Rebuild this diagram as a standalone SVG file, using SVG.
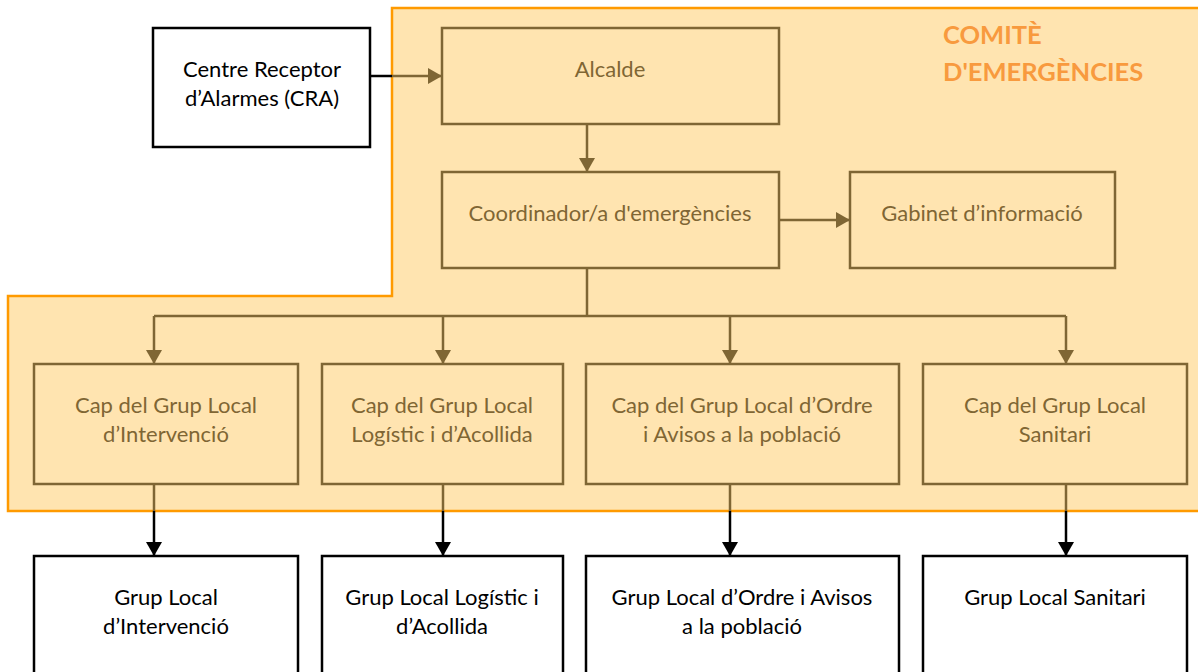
<svg xmlns="http://www.w3.org/2000/svg" width="1198" height="672" viewBox="0 0 1198 672">
<style>
text{font-family:Lato,"Liberation Sans",sans-serif;font-size:22px;text-anchor:middle}
.in rect{fill:#FFE4B0;stroke:#7F6634;stroke-width:2.5}
.in text{fill:#7F6634}
.out rect{fill:#FFFFFF;stroke:#000000;stroke-width:2.5}
.out text{fill:#000000}
.bl{stroke:#7F6634;stroke-width:2.5;fill:none}
.bk{stroke:#000000;stroke-width:2.5;fill:none}
.title{font-weight:bold;font-size:25.5px;fill:#F89A3E;text-anchor:start}
</style>
<defs>
<marker id="ab" markerUnits="userSpaceOnUse" markerWidth="16" markerHeight="16" viewBox="0 0 14 16" refX="14" refY="8" orient="auto"><path d="M0,0 L14,8 L0,16 Z" fill="#7F6634"/></marker>
<marker id="ak" markerUnits="userSpaceOnUse" markerWidth="16" markerHeight="16" viewBox="0 0 14 16" refX="14" refY="8" orient="auto"><path d="M0,0 L14,8 L0,16 Z" fill="#000000"/></marker>
</defs>
<rect x="0" y="0" width="1198" height="672" fill="#FFFFFF"/>
<g id="comite">
<path d="M392,8 L1210,8 L1210,511 L8,511 L8,296 L392,296 Z" fill="#FFE4B0" stroke="#FF9A00" stroke-width="2.5"/>
<text class="title" x="943" y="44">COMITÈ</text>
<text class="title" x="943" y="81">D'EMERGÈNCIES</text>
</g>
<g id="connectors">
<line class="bk" x1="371" y1="76" x2="392" y2="76"/>
<line class="bl" x1="392" y1="76" x2="442" y2="76" marker-end="url(#ab)"/>
<line class="bl" x1="587" y1="124" x2="587" y2="172" marker-end="url(#ab)"/>
<line class="bl" x1="779" y1="220" x2="850" y2="220" marker-end="url(#ab)"/>
<path class="bl" d="M587,268 L587,316 M154,316 L1066,316"/>
<line class="bl" x1="154" y1="316" x2="154" y2="364" marker-end="url(#ab)"/>
<line class="bl" x1="443" y1="316" x2="443" y2="364" marker-end="url(#ab)"/>
<line class="bl" x1="730" y1="316" x2="730" y2="364" marker-end="url(#ab)"/>
<line class="bl" x1="1066" y1="316" x2="1066" y2="364" marker-end="url(#ab)"/>
<path class="bl" d="M154,484 L154,511 M443,484 L443,511 M730,484 L730,511 M1066,484 L1066,511"/>
<line class="bk" x1="154" y1="511" x2="154" y2="556" marker-end="url(#ak)"/>
<line class="bk" x1="443" y1="511" x2="443" y2="556" marker-end="url(#ak)"/>
<line class="bk" x1="730" y1="511" x2="730" y2="556" marker-end="url(#ak)"/>
<line class="bk" x1="1066" y1="511" x2="1066" y2="556" marker-end="url(#ak)"/>
</g>
<g id="cra" class="out">
<rect x="153" y="28" width="217" height="119"/>
<text x="262" y="77">Centre Receptor</text>
<text x="262" y="106">d’Alarmes (CRA)</text>
</g>
<g id="alcalde" class="in">
<rect x="442" y="28" width="337" height="96"/>
<text x="610" y="77">Alcalde</text>
</g>
<g id="coordinador" class="in">
<rect x="442" y="172" width="337" height="96"/>
<text x="610" y="221">Coordinador/a d'emergències</text>
</g>
<g id="gabinet" class="in">
<rect x="850" y="172" width="265" height="96"/>
<text x="982" y="221">Gabinet d’informació</text>
</g>
<g id="cap-intervencio" class="in">
<rect x="34" y="364" width="264" height="120"/>
<text x="166" y="413">Cap del Grup Local</text>
<text x="166" y="442">d’Intervenció</text>
</g>
<g id="cap-logistic" class="in">
<rect x="322" y="364" width="241" height="120"/>
<text x="442" y="413">Cap del Grup Local</text>
<text x="442" y="442">Logístic i d’Acollida</text>
</g>
<g id="cap-ordre" class="in">
<rect x="586" y="364" width="313" height="120"/>
<text x="742" y="413">Cap del Grup Local d’Ordre</text>
<text x="742" y="442">i Avisos a la població</text>
</g>
<g id="cap-sanitari" class="in">
<rect x="923" y="364" width="264" height="120"/>
<text x="1055" y="413">Cap del Grup Local</text>
<text x="1055" y="442">Sanitari</text>
</g>
<g id="grup-intervencio" class="out">
<rect x="34" y="556" width="264" height="130"/>
<text x="166" y="605">Grup Local</text>
<text x="166" y="634">d’Intervenció</text>
</g>
<g id="grup-logistic" class="out">
<rect x="322" y="556" width="241" height="130"/>
<text x="442" y="605">Grup Local Logístic i</text>
<text x="442" y="634">d’Acollida</text>
</g>
<g id="grup-ordre" class="out">
<rect x="586" y="556" width="313" height="130"/>
<text x="742" y="605">Grup Local d’Ordre i Avisos</text>
<text x="742" y="634">a la població</text>
</g>
<g id="grup-sanitari" class="out">
<rect x="923" y="556" width="264" height="130"/>
<text x="1055" y="605">Grup Local Sanitari</text>
</g>
</svg>
